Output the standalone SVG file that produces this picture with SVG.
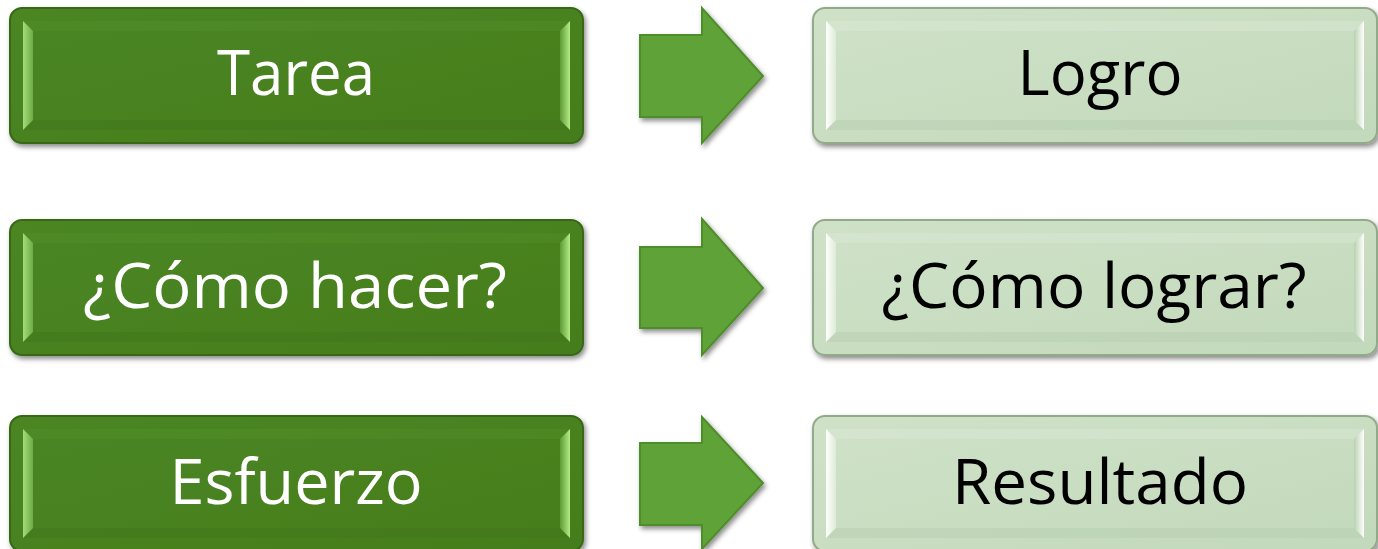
<svg xmlns="http://www.w3.org/2000/svg" width="1378" height="549" viewBox="0 0 1378 549">
<defs>
<filter id="sh" x="-5%" y="-10%" width="112%" height="130%">
<feDropShadow dx="2" dy="3" stdDeviation="2.5" flood-color="#000" flood-opacity="0.45"/>
</filter>
<linearGradient id="dkFace" x1="0" y1="0" x2="1" y2="1">
<stop offset="0" stop-color="#4b8622"/>
<stop offset="1" stop-color="#457d1d"/>
</linearGradient>
<linearGradient id="ltFace" x1="0" y1="0" x2="1" y2="1">
<stop offset="0" stop-color="#cfe2c8"/>
<stop offset="1" stop-color="#c3d9bb"/>
</linearGradient>
<linearGradient id="dkL" x1="0" y1="0" x2="1" y2="0">
<stop offset="0" stop-color="#a4dc78"/>
<stop offset="1" stop-color="#6eac44"/>
</linearGradient>
<linearGradient id="dkR" x1="1" y1="0" x2="0" y2="0">
<stop offset="0" stop-color="#b4ec86"/>
<stop offset="1" stop-color="#5e9a36"/>
</linearGradient>
<linearGradient id="ltL" x1="0" y1="0" x2="1" y2="0">
<stop offset="0" stop-color="#ffffff"/>
<stop offset="1" stop-color="#dcebd6"/>
</linearGradient>
<linearGradient id="ltR" x1="1" y1="0" x2="0" y2="0">
<stop offset="0" stop-color="#ffffff"/>
<stop offset="1" stop-color="#b9d1b0"/>
</linearGradient>
</defs>
<style>
.dk{fill:url(#dkFace);stroke:#386818;stroke-width:2}
.lt{fill:url(#ltFace);stroke:#93aa8a;stroke-width:2}
.dkTop{fill:#579530;opacity:0.3}
.dkBot{fill:#3f7419;opacity:0.35}
.ltTop{fill:#dbe9d5;opacity:0.45}
.ltBot{fill:#b5cbac;opacity:0.4}
.arr{fill:#5fa237;stroke:#4f8c2c;stroke-width:2;stroke-linejoin:miter}
.tw{font-family:"Open Sans","Noto Sans",sans-serif;font-size:62px;fill:#ffffff;text-anchor:middle}
.tb{font-family:"Open Sans","Noto Sans",sans-serif;font-size:62px;fill:#000000;text-anchor:middle}
</style>
<rect width="1378" height="549" fill="#ffffff"/>

<g id="tarea">
<rect class="dk" x="10" y="8" width="573" height="135" rx="12" filter="url(#sh)"/>
<polygon class="dkTop" points="23,21 570,21 560,31 33,31"/>
<polygon class="dkBot" points="23,130 570,130 560,120 33,120"/>
<polygon points="23,21 33,31 33,120 23,130" fill="url(#dkL)"/>
<polygon points="570,21 560,31 560,120 570,130" fill="url(#dkR)"/>
<text class="tw" x="296" y="95" textLength="158" lengthAdjust="spacingAndGlyphs">Tarea</text>
</g>
<g id="como-hacer">
<rect class="dk" x="10" y="220" width="573" height="135" rx="12" filter="url(#sh)"/>
<polygon class="dkTop" points="23,233 570,233 560,243 33,243"/>
<polygon class="dkBot" points="23,342 570,342 560,332 33,332"/>
<polygon points="23,233 33,243 33,332 23,342" fill="url(#dkL)"/>
<polygon points="570,233 560,243 560,332 570,342" fill="url(#dkR)"/>
<text class="tw" x="295" y="308" textLength="424" lengthAdjust="spacingAndGlyphs">¿Cómo hacer?</text>
</g>
<g id="esfuerzo">
<rect class="dk" x="10" y="416" width="573" height="135" rx="12" filter="url(#sh)"/>
<polygon class="dkTop" points="23,429 570,429 560,439 33,439"/>
<polygon class="dkBot" points="23,538 570,538 560,528 33,528"/>
<polygon points="23,429 33,439 33,528 23,538" fill="url(#dkL)"/>
<polygon points="570,429 560,439 560,528 570,538" fill="url(#dkR)"/>
<text class="tw" x="296" y="504" textLength="253" lengthAdjust="spacingAndGlyphs">Esfuerzo</text>
</g>

<g id="logro">
<rect class="lt" x="813" y="8" width="564" height="135" rx="12" filter="url(#sh)"/>
<polygon class="ltTop" points="826,21 1364,21 1354,31 836,31"/>
<polygon class="ltBot" points="826,130 1364,130 1354,120 836,120"/>
<polygon points="826,21 836,31 836,120 826,130" fill="url(#ltL)"/>
<polygon points="1364,21 1354,31 1354,120 1364,130" fill="url(#ltR)"/>
<text class="tb" x="1100" y="95" textLength="165" lengthAdjust="spacingAndGlyphs">Logro</text>
</g>
<g id="como-lograr">
<rect class="lt" x="813" y="220" width="564" height="135" rx="12" filter="url(#sh)"/>
<polygon class="ltTop" points="826,233 1364,233 1354,243 836,243"/>
<polygon class="ltBot" points="826,342 1364,342 1354,332 836,332"/>
<polygon points="826,233 836,243 836,332 826,342" fill="url(#ltL)"/>
<polygon points="1364,233 1354,243 1354,332 1364,342" fill="url(#ltR)"/>
<text class="tb" x="1094" y="308" textLength="425" lengthAdjust="spacingAndGlyphs">¿Cómo lograr?</text>
</g>
<g id="resultado">
<rect class="lt" x="813" y="416" width="564" height="135" rx="12" filter="url(#sh)"/>
<polygon class="ltTop" points="826,429 1364,429 1354,439 836,439"/>
<polygon class="ltBot" points="826,538 1364,538 1354,528 836,528"/>
<polygon points="826,429 836,439 836,528 826,538" fill="url(#ltL)"/>
<polygon points="1364,429 1354,439 1354,528 1364,538" fill="url(#ltR)"/>
<text class="tb" x="1100" y="504" textLength="296" lengthAdjust="spacingAndGlyphs">Resultado</text>
</g>

<g id="connectors">
<polygon class="arr" filter="url(#sh)" points="640,35 702,35 702,8 763,76 702,143 702,117 640,117"/>
<polygon class="arr" filter="url(#sh)" points="640,247 702,247 702,219 763,288 702,355 702,328 640,328"/>
<polygon class="arr" filter="url(#sh)" points="640,443 702,443 702,417 763,483 702,549 702,525 640,525"/>
</g>
</svg>
